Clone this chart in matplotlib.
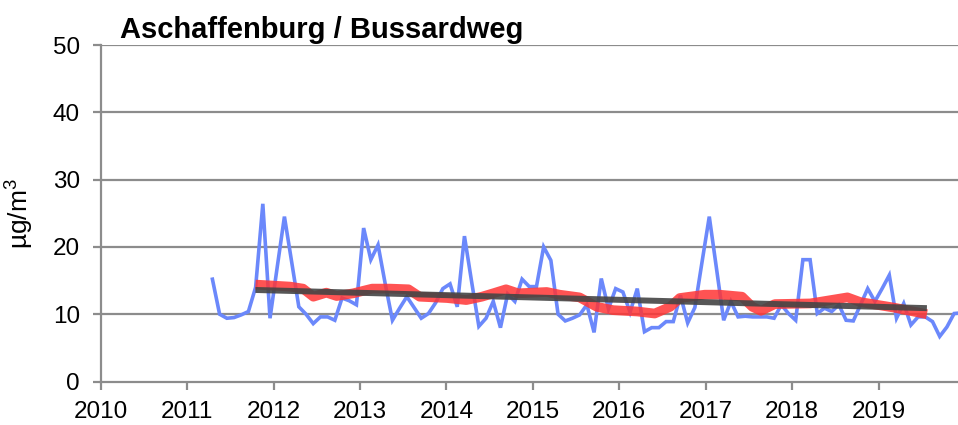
import numpy as np
import matplotlib
matplotlib.use("Agg")
import matplotlib.pyplot as plt

plt.rcParams['font.family'] = ['Liberation Sans', 'DejaVu Sans']
plt.rcParams['mathtext.fontset'] = 'custom'
plt.rcParams['mathtext.rm'] = 'Liberation Sans'
plt.rcParams['mathtext.it'] = 'Liberation Sans'

# Monthly values (Apr 2011 .. Dec 2019)
start_year = 2011
start_month = 4
monthly = [
    15.2, 10.0, 9.4, 9.5, 9.9, 10.4, 14.0, 26.4, 9.4,                  # 2011 Apr-Dec
    17.0, 24.5, 17.8, 11.1, 10.0, 8.6, 9.6, 9.6, 9.1, 12.4, 12.0, 11.4,  # 2012
    22.8, 18.1, 20.3, 14.5, 9.1, 10.9, 12.6, 11.0, 9.4, 10.1, 11.7, 13.8,  # 2013
    14.5, 11.1, 21.6, 14.8, 8.2, 9.4, 11.9, 8.0, 13.0, 11.9, 15.2, 14.1,  # 2014
    14.1, 20.0, 18.0, 10.0, 9.0, 9.4, 9.9, 11.4, 7.3, 15.3, 10.8, 13.8,  # 2015
    13.3, 10.3, 13.8, 7.4, 8.0, 8.0, 8.9, 8.9, 12.8, 8.7, 11.0, 17.8,    # 2016
    24.5, 16.8, 9.1, 11.9, 9.6, 9.7, 9.6, 9.6, 9.6, 9.4, 11.4, 10.1,     # 2017
    9.1, 18.1, 18.1, 10.1, 10.9, 10.4, 11.4, 9.1, 9.0, 11.4, 13.8, 11.9, # 2018
    13.8, 15.8, 9.4, 11.6, 8.4, 9.6, 9.6, 8.9, 6.7, 8.1, 10.1, 10.2,     # 2019
]

# Running mean (red) as (decimal year, value)
red_t = [2011.79, 2012.19, 2012.34, 2012.46, 2012.61, 2012.73, 2012.92, 2013.14,
         2013.35, 2013.56, 2013.69, 2014.01, 2014.23, 2014.41, 2014.54, 2014.69,
         2014.83, 2015.16, 2015.31, 2015.54, 2015.74, 2015.93, 2016.21, 2016.41,
         2016.59, 2016.70, 2016.99, 2017.16, 2017.42, 2017.54, 2017.64, 2017.80,
         2018.21, 2018.64, 2018.79, 2019.17, 2019.56]
red_v = [14.4, 14.1, 13.8, 12.6, 13.2, 12.7, 13.1, 13.8,
         13.8, 13.7, 12.6, 12.4, 12.1, 12.6, 13.1, 13.7,
         13.1, 13.3, 12.9, 12.5, 11.1, 10.6, 10.4, 10.1,
         11.1, 12.4, 12.9, 12.9, 12.6, 11.1, 10.5, 11.5,
         11.6, 12.5, 11.8, 11.0, 10.0]

# Trend line (start, end)
trend_t = [2011.79, 2019.56]
trend_v = [13.6, 10.9]

title = "Aschaffenburg / Bussardweg"
ylabel = "µg/m$^{3}$"
year_ticks = list(range(2010, 2020))
y_ticks = [0, 10, 20, 30, 40, 50]

# time axis for monthly values (mid-month)
t_month = [start_year + (start_month - 1 + i + 0.5) / 12.0 for i in range(len(monthly))]

fig = plt.figure(figsize=(9.58, 4.25), dpi=100)
ax = fig.add_axes([100.8 / 958, 1 - 381.5 / 425, 1 - 100.8 / 958, (381.5 - 45) / 425])

grid_c = '#8c8c8c'
for yv in y_ticks[1:]:
    ax.axhline(yv, color=grid_c, lw=1.6, zorder=1)

ax.plot(t_month, monthly, color='#6b88fb', lw=2.6, zorder=3, solid_joinstyle='miter')
ax.plot(red_t, red_v, color='#ff3535', lw=7, alpha=0.85, zorder=4, solid_capstyle='butt')
ax.plot(trend_t, trend_v, color='#454545', lw=4.3, alpha=0.9, zorder=5, solid_capstyle='butt')

ax.set_xlim(2010, 2019.92)
ax.set_ylim(0, 50)
ax.set_xticks(year_ticks)
ax.set_xticklabels([str(y) for y in year_ticks])
ax.set_yticks(y_ticks)

for s in ['top', 'right']:
    ax.spines[s].set_visible(False)
for s in ['left', 'bottom']:
    ax.spines[s].set_color(grid_c)
    ax.spines[s].set_linewidth(1.6)

ax.tick_params(axis='both', direction='out', length=6, width=1.6, color=grid_c,
               labelsize=17.5, labelcolor='black')
ax.tick_params(axis='y', pad=9)
ax.tick_params(axis='x', pad=8)

ax.set_ylabel(ylabel, fontsize=19, labelpad=12)

fig.text(120 / 958, 1 - 37.5 / 425, title, fontsize=21, fontweight='bold',
         ha='left', va='baseline')

fig.savefig('out.png', dpi=100)
